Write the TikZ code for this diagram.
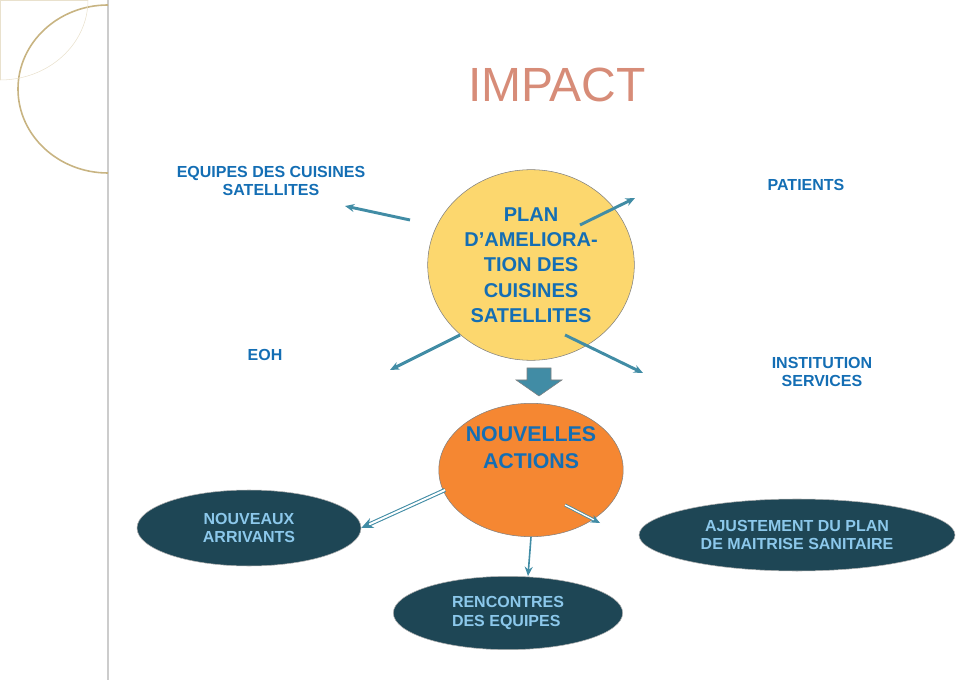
\documentclass[tikz,border=0pt]{standalone}
\usepackage{fontspec}
\setmainfont{Liberation Sans}
\usetikzlibrary{shapes.geometric,arrows.meta}
\definecolor{myblue}{RGB}{20,110,180}
\definecolor{myteal}{RGB}{65,140,165}
\definecolor{mydark}{RGB}{30,70,85}
\definecolor{mylightblue}{RGB}{140,200,235}
\definecolor{mysalmon}{RGB}{215,140,120}
\definecolor{myyellow}{RGB}{252,215,110}
\definecolor{myorange}{RGB}{245,135,50}
\definecolor{mygold}{RGB}{200,180,130}

\begin{document}
\begin{tikzpicture}[x=0.75pt,y=-0.75pt,
    lbl/.style={font=\bfseries\fontsize{12}{14}\selectfont, text=myblue, align=center},
    dark/.style={ellipse, draw=gray!60, fill=mydark, text=mylightblue, align=center,
                 font=\bfseries\fontsize{12}{14}\selectfont},
    arr/.style={-{Stealth[length=7pt,width=6pt]}, draw=myteal, line width=2.2pt}]
    \useasboundingbox (0,0) rectangle (959,680);
    % decoration on the left
    \draw[gray!40, line width=2pt] (108,0) -- (108,680);
    \draw[mygold, line width=1.2pt] (108,5) arc[start angle=-90, end angle=-270, x radius=90, y radius=84];
    \draw[mygold!40] (0,80) -- (0,0) -- (88,0);
    \draw[mygold!40] (88,0) arc[start angle=0, end angle=90, x radius=88, y radius=80];

    % title
    \node[text=mysalmon, font=\fontsize{36}{40}\selectfont] (title) at (557,85) {IMPACT};

    % main circles
    \node[ellipse, draw=gray, fill=myyellow, minimum width=155pt, minimum height=143pt, inner sep=0pt,
          lbl, font=\bfseries\fontsize{15}{19}\selectfont] (plan) at (531,265)
          {PLAN\\D'AMELIORA-\\TION DES\\CUISINES\\SATELLITES};
    \node[ellipse, draw=gray, fill=myorange, minimum width=128pt, minimum height=100pt, inner sep=0pt,
          lbl, font=\bfseries\fontsize{16}{20}\selectfont] (actions) at (531,470)
          {NOUVELLES\\ACTIONS\\[14pt]};

    % labels around the plan
    \node[lbl] (equipes) at (271,181) {EQUIPES DES CUISINES\\SATELLITES};
    \node[lbl] (patients) at (806,185) {PATIENTS};
    \node[lbl] (eoh) at (265,355) {EOH};
    \node[lbl] (institution) at (822,372) {INSTITUTION\\SERVICES};

    % dark ellipses
    \node[dark, minimum width=168pt, minimum height=57pt, inner sep=0pt] (arrivants) at (249,528) {NOUVEAUX\\ARRIVANTS};
    \node[dark, minimum width=237pt, minimum height=54pt, inner sep=0pt] (ajustement) at (797,535) {AJUSTEMENT DU PLAN\\DE MAITRISE SANITAIRE};
    \node[dark, minimum width=172pt, minimum height=55pt, inner sep=0pt, align=left] (rencontres) at (508,613) {RENCONTRES\\DES EQUIPES};

    % arrows from the plan
    \coordinate (p1) at (410,220);
    \coordinate (p2) at (580,225);
    \coordinate (p3) at (460,335);
    \coordinate (p4) at (565,335);
    \coordinate (q1) at (345,206);
    \coordinate (q2) at (635,198);
    \coordinate (q3) at (390,370);
    \coordinate (q4) at (643,373);
    \draw[arr] (p1) -- (q1);
    \draw[arr] (p2) -- (q2);
    \draw[arr] (p3) -- (q3);
    \draw[arr] (p4) -- (q4);

    % block arrow between the circles
    \fill[myteal, draw=gray] (527,368) -- (551,368) -- (551,380) -- (562,380) -- (539,396)
        -- (516,380) -- (527,380) -- cycle;

    % arrows from the actions
    \coordinate (a1) at (445,490);
    \coordinate (a2) at (565,505);
    \coordinate (b2) at (600,523);
    \draw[-{Stealth[length=9pt,width=8pt]}, double=white, draw=myteal, line width=0.8pt, double distance=1.5pt]
        (a1) -- (arrivants.east);
    \draw[-{Stealth[length=7pt,width=6pt]}, double=white, draw=myteal, line width=0.6pt, double distance=1pt]
        (a2) -- (b2);
    \draw[-{Stealth[length=7pt,width=6pt]}, draw=myteal, line width=1.2pt] (actions.south) -- (rencontres.north -| 528,0);
\end{tikzpicture}
\end{document}
